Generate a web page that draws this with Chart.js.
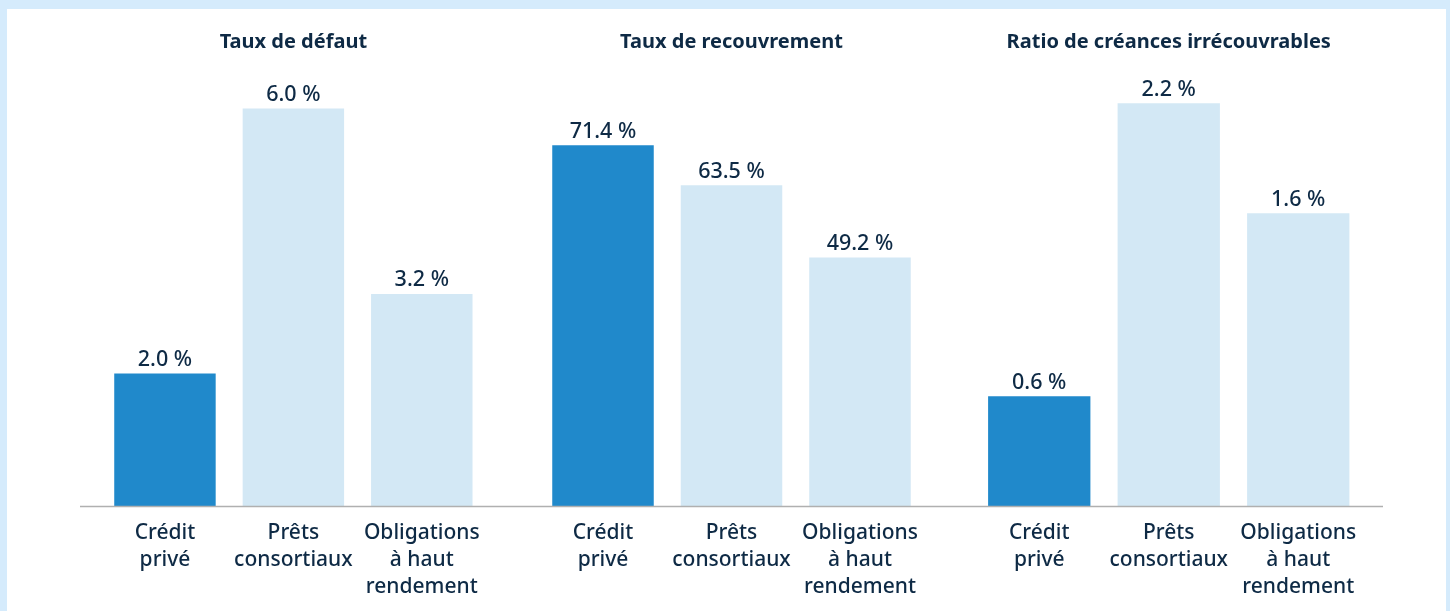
<!DOCTYPE html>
<html lang="fr">
<head>
    <meta charset="UTF-8">
    <title>Crédit privé - défauts et recouvrement</title>
    <script src="https://cdn.jsdelivr.net/npm/chart.js"></script>
    <style>
        body {
            margin: 0;
            padding: 0;
            font-family: "Noto Sans", sans-serif;
        }

        .frame {
            position: relative;
            width: 1450px;
            height: 611px;
            background-color: #d5ebfc;
            overflow: hidden;
        }

        .panel {
            position: absolute;
            left: 7px;
            top: 9px;
            width: 1439px;
            height: 610px;
            background-color: #ffffff;
        }

        .chart-box {
            position: absolute;
            top: 0;
            height: 614px;
        }
    </style>
</head>
<body>
    <div class="frame">
        <div class="panel"></div>
        <div class="chart-box" style="left: 80px; width: 432px;"><canvas id="defaultChart"></canvas></div>
        <div class="chart-box" style="left: 512px; width: 438px;"><canvas id="recoveryChart"></canvas></div>
        <div class="chart-box" style="left: 950px; width: 433px;"><canvas id="lossChart"></canvas></div>
    </div>

    <script>
        // Data
        const categories = [['Crédit', 'privé'], ['Prêts', 'consortiaux'], ['Obligations', 'à haut', 'rendement']];
        const titles = ['Taux de défaut', 'Taux de recouvrement', 'Ratio de créances irrécouvrables'];
        const defaultRates = [2.0, 6.0, 3.2];
        const recoveryRates = [71.4, 63.5, 49.2];
        const lossRatios = [0.6, 2.2, 1.6];

        const textColor = '#0e2a45';
        const barColors = ['#2089cb', '#d3e8f5', '#d3e8f5'];
        const fontFamily = '"Noto Sans", sans-serif';

        // value labels above each bar
        const valueLabels = {
            id: 'valueLabels',
            afterDatasetsDraw(chart) {
                const ctx = chart.ctx;
                const meta = chart.getDatasetMeta(0);
                const values = chart.data.datasets[0].data;
                ctx.save();
                ctx.font = '500 21.5px ' + fontFamily;
                ctx.fillStyle = textColor;
                ctx.textAlign = 'center';
                ctx.textBaseline = 'bottom';
                meta.data.forEach((bar, i) => {
                    ctx.fillText(values[i].toFixed(1) + ' %', bar.x, bar.y - 3);
                });
                ctx.restore();
            }
        };

        // baseline runs across the whole canvas so the three panels join up
        const baseLine = {
            id: 'baseLine',
            afterDatasetsDraw(chart) {
                const ctx = chart.ctx;
                const y = chart.chartArea.bottom + 0.5;
                ctx.save();
                ctx.strokeStyle = '#b0b0b0';
                ctx.lineWidth = 1.5;
                ctx.beginPath();
                ctx.moveTo(0, y);
                ctx.lineTo(chart.width, y);
                ctx.stroke();
                ctx.restore();
            }
        };

        function makeChart(id, title, values, yMax, padLeft, padRight) {
            return new Chart(document.getElementById(id).getContext('2d'), {
                type: 'bar',
                data: {
                    labels: categories,
                    datasets: [{
                        data: values,
                        backgroundColor: barColors,
                        barPercentage: 0.79,
                        categoryPercentage: 1
                    }]
                },
                options: {
                    responsive: true,
                    maintainAspectRatio: false,
                    animation: false,
                    layout: {
                        padding: { left: padLeft, right: padRight, top: 0, bottom: 0 }
                    },
                    plugins: {
                        legend: { display: false },
                        tooltip: { enabled: false },
                        title: {
                            display: true,
                            text: title,
                            color: textColor,
                            font: { family: fontFamily, size: 20, weight: 'bold', lineHeight: 1.2 },
                            padding: { top: 30, bottom: 20 }
                        }
                    },
                    scales: {
                        x: {
                            grid: { display: false, drawTicks: false },
                            border: { display: false },
                            ticks: {
                                color: textColor,
                                padding: 13,
                                maxRotation: 0,
                                autoSkip: false,
                                font: { family: fontFamily, size: 21, weight: '500', lineHeight: 1.3 }
                            }
                        },
                        y: {
                            display: false,
                            min: 0,
                            max: yMax
                        }
                    }
                },
                plugins: [valueLabels, baseLine]
            });
        }

        makeChart('defaultChart', titles[0], defaultRates, 6.52, 20.75, 26);
        makeChart('recoveryChart', titles[1], recoveryRates, 85.5, 26.75, 25.75);
        makeChart('lossChart', titles[2], lossRatios, 2.36, 24.5, 20);
    </script>
</body>
</html>
